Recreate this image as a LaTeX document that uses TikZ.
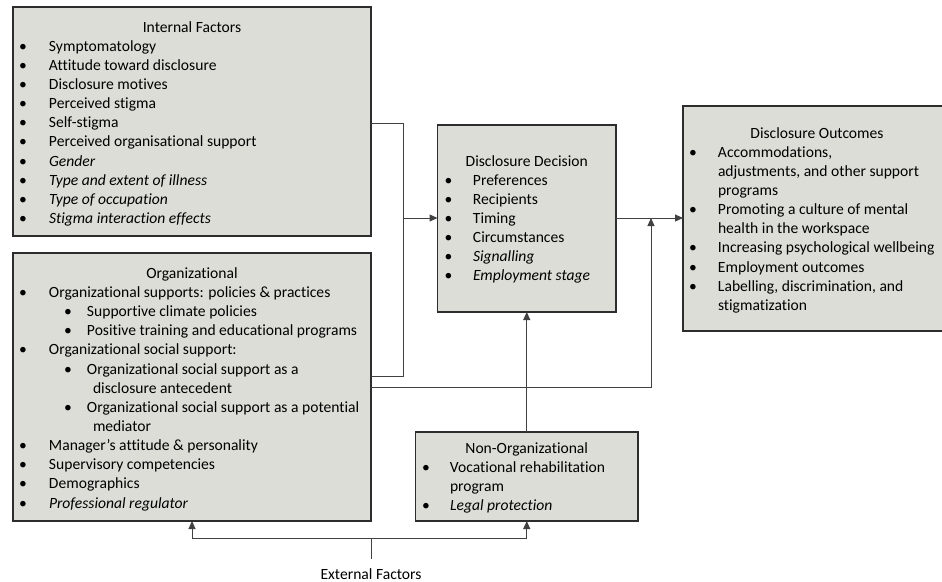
\documentclass[tikz,border=0pt]{standalone}
\usepackage{fontspec}
\setmainfont{Carlito}[Ligatures=NoCommon]
\usetikzlibrary{arrows.meta}
\definecolor{boxfill}{RGB}{221,221,215}
\definecolor{edgecol}{RGB}{45,45,45}
\definecolor{wire}{RGB}{65,65,65}
\newcommand{\Ttl}[2]{\hbox to #1{\hfil\rule{0pt}{14pt}#2\hfil}}
\newcommand{\Bi}[3]{\hbox{\hbox to #1{\hskip#2\makebox[0pt]{\textbullet}\hfil}#3}}
\newcommand{\Cl}[2]{\hbox{\hskip#1#2}}
\begin{document}
\begin{tikzpicture}[x=1pt,y=-1pt,
  box/.style={draw=edgecol, fill=boxfill, line width=1.1pt, anchor=north west, inner sep=0pt, outer sep=0pt},
  txt/.style={anchor=north west, inner sep=0pt, outer sep=0pt, font={\fontsize{15.6}{19.15}\selectfont}},
  conn/.style={draw=wire, line width=1pt},
  arr/.style={conn, -{Triangle[length=8pt,width=7pt]}}]
\useasboundingbox (0,0) rectangle (942,581);

% boxes
\node[box, minimum width=358pt, minimum height=229pt] (internal) at (13,7) {};
\node[box, minimum width=358pt, minimum height=268pt] (org) at (13,253) {};
\node[box, minimum width=178.5pt, minimum height=187pt] (decision) at (437.5,125) {};
\node[box, minimum width=268pt, minimum height=225pt] (outcomes) at (683,106) {};
\node[box, minimum width=222.5pt, minimum height=89pt] (nonorg) at (415.5,432) {};

% texts
\node[txt] (internalT) at (13,18) {\vbox{%
\Ttl{358pt}{Internal Factors}
\Bi{36pt}{10pt}{Symptomatology}
\Bi{36pt}{10pt}{Attitude toward disclosure}
\Bi{36pt}{10pt}{Disclosure motives}
\Bi{36pt}{10pt}{Perceived stigma}
\Bi{36pt}{10pt}{Self-stigma}
\Bi{36pt}{10pt}{Perceived organisational support}
\Bi{36pt}{10pt}{\textit{Gender}}
\Bi{36pt}{10pt}{\textit{Type and extent of illness}}
\Bi{36pt}{10pt}{\textit{Type of occupation}}
\Bi{36pt}{10pt}{\textit{Stigma interaction effects}}}};

\node[txt] (orgT) at (13,264.3) {\vbox{%
\Ttl{358pt}{Organizational}
\Bi{36pt}{10pt}{Organizational supports: policies \& practices}
\Bi{74pt}{55pt}{Supportive climate policies}
\Bi{74pt}{55pt}{Positive training and educational programs}
\Bi{36pt}{10pt}{Organizational social support:}
\Bi{74pt}{55pt}{Organizational social support as a}
\Cl{80pt}{disclosure antecedent}
\Bi{74pt}{55pt}{Organizational social support as a potential}
\Cl{80pt}{mediator}
\Bi{36pt}{10pt}{Manager’s attitude \& personality}
\Bi{36pt}{10pt}{Supervisory competencies}
\Bi{36pt}{10pt}{Demographics}
\Bi{36pt}{10pt}{\textit{Professional regulator}}}};

\node[txt] (decisionT) at (437.5,152) {\vbox{%
\Ttl{178.5pt}{Disclosure Decision}
\Bi{35.5pt}{11pt}{Preferences}
\Bi{35.5pt}{11pt}{Recipients}
\Bi{35.5pt}{11pt}{Timing}
\Bi{35.5pt}{11pt}{Circumstances}
\Bi{35.5pt}{11pt}{\textit{Signalling}}
\Bi{35.5pt}{11pt}{\textit{Employment stage}}}};

\node[txt] (outcomesT) at (683,124) {\vbox{%
\Ttl{268pt}{Disclosure Outcomes}
\Bi{35pt}{10pt}{Accommodations,}
\Cl{35pt}{adjustments, and other support}
\Cl{35pt}{programs}
\Bi{35pt}{10pt}{Promoting a culture of mental}
\Cl{35pt}{health in the workspace}
\Bi{35pt}{10pt}{Increasing psychological wellbeing}
\Bi{35pt}{10pt}{Employment outcomes}
\Bi{35pt}{10pt}{Labelling, discrimination, and}
\Cl{35pt}{stigmatization}}};

\node[txt] (nonorgT) at (415.5,439) {\vbox{%
\Ttl{222.5pt}{Non-Organizational}
\Bi{34.5pt}{10.5pt}{Vocational rehabilitation}
\Cl{34.5pt}{program}
\Bi{34.5pt}{10.5pt}{\textit{Legal protection}}}};

\node[anchor=base, inner sep=0pt, font={\fontsize{15.6}{19.15}\selectfont}] (ext) at (371,579) {External Factors};

% junction coordinates
\coordinate (jTop) at (403,123);
\coordinate (jBot) at (403,376);
\coordinate (jMid) at (403,218);
\coordinate (jLow) at (651,387);
\coordinate (jUp) at (651,218);
\coordinate (jE) at (371,538);

% connectors
\draw[conn] (internal.east |- jTop) -| (jBot) -- (org.east |- jBot);
\draw[arr] (jMid) -- (decision.west |- jMid);
\draw[arr] (decision.east |- jMid) -- (outcomes.west |- jMid);
\draw[arr] (org.east |- jLow) -| (jUp);
\draw[arr] (nonorg.north) -- (decision.south);
\draw[conn] ([yshift=9pt]ext.north) -- (jE);
\draw[arr] (jE) -| (org.south);
\draw[arr] (jE) -| (nonorg.south);
\end{tikzpicture}
\end{document}
